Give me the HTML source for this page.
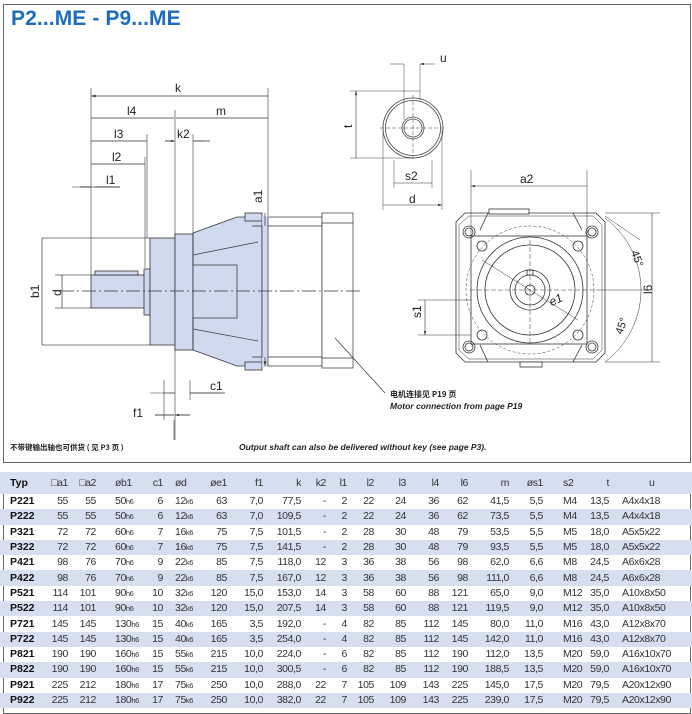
<!DOCTYPE html>
<html><head><meta charset="utf-8">
<style>
html,body{margin:0;padding:0;background:#fff;}
body{width:692px;height:708px;position:relative;overflow:hidden;font-family:"Liberation Sans",sans-serif;}
.box{position:absolute;border:1px solid #666;}
svg{position:absolute;left:0;top:0;}
table{position:absolute;left:0;top:472px;border-collapse:collapse;table-layout:fixed;width:692px;font-family:"Liberation Sans Narrow","Liberation Sans",sans-serif;font-size:10.5px;letter-spacing:-0.4px;color:#333;}
td{padding:0;height:15.3px;line-height:15px;white-space:nowrap;text-align:right;overflow:visible;}
tr.h td{height:22px;background:#d5dff0;}
tr.b td{background:#d5dff0;}
td.l{text-align:left;}
td.ty{text-align:left;padding-left:10px;font-weight:bold;font-family:"Liberation Sans",sans-serif;font-size:10.5px;letter-spacing:0;color:#111;}
small{font-size:7.5px;}
</style></head><body>
<div class="box" style="left:3px;top:4px;width:686px;height:457px;"></div>
<div class="box" style="left:3px;top:472px;width:686px;height:240px;"></div>
<div style="position:absolute;left:11px;top:7px;font-size:21px;font-weight:bold;color:#1b6dbd;letter-spacing:0.1px;">P2...ME - P9...ME</div>

<svg width="692" height="708" viewBox="0 0 692 708" font-family="Liberation Sans, sans-serif">
<defs>
<marker id="a" viewBox="0 0 10 6" refX="10" refY="3" markerWidth="8" markerHeight="4" orient="auto-start-reverse"><path d="M0,0L10,3L0,6z" fill="#333"/></marker>
</defs>
<g stroke="#555" stroke-width="0.7" fill="none">
<path d="M91,88V275 M147,134V238 M145,157V268 M175,110V440 M193,134V300 M268,88V216 M174,420V440 M164,380V420 M190,380V400 M80,187H120 M42,238H150 M55,275H91 M55,308H91 M42,345H150"/>
</g>
<g stroke="#333" stroke-width="0.8" fill="#cfdaee">
<rect x="91" y="275" width="54" height="33"/>
<rect x="95" y="271" width="43" height="4"/>
<rect x="144" y="269" width="6" height="46"/>
<rect x="150" y="238" width="25" height="107"/>
<rect x="175" y="234" width="18" height="116"/>
<path d="M193,233L237,217H262V366H237L193,350Z"/>
<rect x="245" y="213" width="17" height="8"/>
<rect x="245" y="362" width="17" height="8"/>
<rect x="262" y="216" width="6" height="151" stroke="none"/>
</g>
<g stroke="#333" stroke-width="0.7" fill="none">
<path d="M193,233V265H237V318H193V350 M193,255L258,242 M193,329L258,341 M252,226H262V245 M252,357H262V338 M237,265V318 M262,226V357"/>
<rect x="268" y="217" width="54" height="149" fill="#fff"/>
<path d="M268,226H322 M268,357H322"/>
<rect x="322" y="213" width="31" height="155" fill="#fff"/>
<path d="M322,223H353 M322,358H353"/>
<path d="M60,291H362" stroke-dasharray="14,3,2,3"/>
<path d="M335,338L385,393"/>
</g>
<g stroke="#333" stroke-width="0.7" marker-start="url(#a)" marker-end="url(#a)">
<path d="M91,96H268 M91,118H174 M176,118H268 M91,141H147 M91,164H145 M42,238V345 M62,275V308 M265,213V226 M265,357V366"/>
</g>
<g stroke="#333" stroke-width="0.7" fill="none">
<path d="M165,141H175 M193,141H210 M80,187H91 M95,187H120 M164,393H175 M190,393H225 M155,415H174 M175,415H190"/>
</g>
<g stroke="#333" stroke-width="0.6">
<path d="M72,187L91,187 M165,141L175,141" marker-end="url(#a)"/>
<path d="M115,187L95,187 M205,141L193,141 M220,393L190,393 M150,393L164,393 M155,415L174,415 M190,415L175,415" marker-end="url(#a)"/>
</g>
<g font-size="12" fill="#222">
<text x="175" y="92">k</text>
<text x="127" y="115">l4</text>
<text x="216" y="115">m</text>
<text x="114" y="138">l3</text>
<text x="177" y="138">k2</text>
<text x="112" y="161">l2</text>
<text x="106" y="184">l1</text>
<text x="210" y="390">c1</text>
<text x="133" y="417">f1</text>
<text transform="translate(39,298) rotate(-90)">b1</text>
<text transform="translate(61,296) rotate(-90)">d</text>
<text transform="translate(262,203) rotate(-90)">a1</text>
</g>
<g stroke="#444" stroke-width="0.8" fill="none">
<circle cx="413" cy="128" r="30"/><circle cx="413" cy="128" r="27.5"/>
<circle cx="413" cy="128" r="11"/><circle cx="413" cy="128" r="9"/>
<path d="M380,128H446 M413,95V161" stroke-dasharray="4,2" stroke-width="0.5"/>
<path d="M404,64V120 M420,64V100 M350,91H420 M350,158H413 M383,130V210 M442,130V210 M394,160V188 M432,160V188" stroke-width="0.5"/>
</g>
<g stroke="#333" stroke-width="0.6" marker-start="url(#a)" marker-end="url(#a)">
<path d="M356,91V158 M394,183H432 M383,205H442"/>
</g>
<g stroke="#333" stroke-width="0.6" marker-end="url(#a)"><path d="M390,64H404 M435,64H420"/></g>
<g font-size="12" fill="#222"><text x="440" y="62">u</text><text x="405" y="180">s2</text><text x="409" y="203">d</text>
<text transform="translate(352,128) rotate(-90)">t</text></g>
<g stroke="#333" stroke-width="0.8" fill="none">
<path d="M465,213H596L605,222V353L596,362H465L456,353V222Z"/>
<path d="M469,216H593L602,225V350L593,359H469L459,350V225Z" stroke-width="0.5"/>
<rect x="471" y="236" width="116" height="108"/>
<path d="M488,213L480,230 M573,213L582,230 M488,362L480,345 M573,362L582,345"/>
<rect x="489" y="209" width="40" height="5" fill="#fff"/>
<rect x="520" y="362" width="22" height="5" fill="#fff"/>
<circle cx="469" cy="232" r="6"/><circle cx="469" cy="232" r="4"/>
<circle cx="592" cy="232" r="6"/><circle cx="592" cy="232" r="4"/>
<circle cx="469" cy="347" r="6"/><circle cx="469" cy="347" r="4"/>
<circle cx="592" cy="347" r="6"/><circle cx="592" cy="347" r="4"/>
<circle cx="482" cy="246" r="5"/><circle cx="578" cy="246" r="5"/>
<circle cx="482" cy="335" r="5"/><circle cx="578" cy="335" r="5"/>
<circle cx="530" cy="290" r="53"/><circle cx="530" cy="290" r="45"/>
<circle cx="530" cy="290" r="20"/><circle cx="530" cy="290" r="15"/><circle cx="530" cy="290" r="5"/>
<rect x="527" y="270" width="6" height="5"/>
<circle cx="530" cy="290" r="64" stroke-dasharray="3,2" stroke-width="0.5"/>
<path d="M470,290H600 M530,240V345" stroke-dasharray="5,2" stroke-width="0.5"/>
<path d="M482,260L578,320 M600,290H648 M471,170V236 M587,170V236 M605,213H660 M605,362H660 M418,300H471 M418,335H471 M605,216L640,240" stroke-width="0.5"/>
<path d="M605,218A90,90 0 0 1 605,362" stroke-width="0.5"/>
</g>
<g stroke="#333" stroke-width="0.6" marker-start="url(#a)" marker-end="url(#a)">
<path d="M471,186H587 M652,213V362 M425,300V335"/>
</g>
<g font-size="12" fill="#222">
<text x="520" y="183">a2</text>
<text transform="translate(652,294) rotate(-90)">l6</text>
<text transform="translate(421,318) rotate(-90)">s1</text>
<text x="549" y="305" font-style="italic" transform="rotate(-25,553,300)">e1</text>
<text transform="translate(631,252) rotate(70)" font-size="11">45°</text>
<text transform="translate(622,335) rotate(-70)" font-size="11">45°</text>
</g>
<text x="390" y="397" font-size="8" font-weight="bold" fill="#222" font-family="Noto Sans CJK SC, sans-serif">电机连接见 P19 页</text>
<text x="390" y="409" font-size="8.5" font-weight="bold" font-style="italic" fill="#222">Motor connection from page P19</text>
<text x="10" y="450" font-size="7.5" font-weight="bold" fill="#222" font-family="Noto Sans CJK SC, sans-serif">不带键输出轴也可供货 ( 见 P3 页 )</text>
<text x="239" y="450" font-size="8.5" font-weight="bold" font-style="italic" fill="#222">Output shaft can also be delivered without key (see page P3).</text>
</svg>

<table>
<colgroup>
<col style="width:40px"><col style="width:28px"><col style="width:28px"><col style="width:54px"><col style="width:13px"><col style="width:35px"><col style="width:29px"><col style="width:36px"><col style="width:38px"><col style="width:25px"><col style="width:21px"><col style="width:27px"><col style="width:32px"><col style="width:33px"><col style="width:29px"><col style="width:41px"><col style="width:34px"><col style="width:40px"><col style="width:26px"><col style="width:83px">
</colgroup>
<tr class="h"><td class="ty">Typ</td><td>□a1</td><td>□a2</td><td class="l" style="padding-left:19px">øb1</td><td>c1</td><td class="l" style="padding-left:12px">ød</td><td>øe1</td><td>f1</td><td>k</td><td>k2</td><td>l1</td><td>l2</td><td>l3</td><td>l4</td><td>l6</td><td>m</td><td>øs1</td><td class="l" style="padding-left:20px">s2</td><td>t</td><td class="l" style="padding-left:40px">u</td></tr>
<tr><td class="ty">P221</td><td>55</td><td>55</td><td class="l" style="padding-left:19px">50<small>h6</small></td><td>6</td><td class="l" style="padding-left:12px">12<small>k6</small></td><td>63</td><td>7,0</td><td>77,5</td><td>-</td><td>2</td><td>22</td><td>24</td><td>36</td><td>62</td><td>41,5</td><td>5,5</td><td class="l" style="padding-left:20px">M4</td><td>13,5</td><td class="l" style="padding-left:13px">A4x4x18</td></tr>
<tr class="b"><td class="ty">P222</td><td>55</td><td>55</td><td class="l" style="padding-left:19px">50<small>h6</small></td><td>6</td><td class="l" style="padding-left:12px">12<small>k6</small></td><td>63</td><td>7,0</td><td>109,5</td><td>-</td><td>2</td><td>22</td><td>24</td><td>36</td><td>62</td><td>73,5</td><td>5,5</td><td class="l" style="padding-left:20px">M4</td><td>13,5</td><td class="l" style="padding-left:13px">A4x4x18</td></tr>
<tr><td class="ty">P321</td><td>72</td><td>72</td><td class="l" style="padding-left:19px">60<small>h6</small></td><td>7</td><td class="l" style="padding-left:12px">16<small>k6</small></td><td>75</td><td>7,5</td><td>101,5</td><td>-</td><td>2</td><td>28</td><td>30</td><td>48</td><td>79</td><td>53,5</td><td>5,5</td><td class="l" style="padding-left:20px">M5</td><td>18,0</td><td class="l" style="padding-left:13px">A5x5x22</td></tr>
<tr class="b"><td class="ty">P322</td><td>72</td><td>72</td><td class="l" style="padding-left:19px">60<small>h6</small></td><td>7</td><td class="l" style="padding-left:12px">16<small>k6</small></td><td>75</td><td>7,5</td><td>141,5</td><td>-</td><td>2</td><td>28</td><td>30</td><td>48</td><td>79</td><td>93,5</td><td>5,5</td><td class="l" style="padding-left:20px">M5</td><td>18,0</td><td class="l" style="padding-left:13px">A5x5x22</td></tr>
<tr><td class="ty">P421</td><td>98</td><td>76</td><td class="l" style="padding-left:19px">70<small>h6</small></td><td>9</td><td class="l" style="padding-left:12px">22<small>k6</small></td><td>85</td><td>7,5</td><td>118,0</td><td>12</td><td>3</td><td>36</td><td>38</td><td>56</td><td>98</td><td>62,0</td><td>6,6</td><td class="l" style="padding-left:20px">M8</td><td>24,5</td><td class="l" style="padding-left:13px">A6x6x28</td></tr>
<tr class="b"><td class="ty">P422</td><td>98</td><td>76</td><td class="l" style="padding-left:19px">70<small>h6</small></td><td>9</td><td class="l" style="padding-left:12px">22<small>k6</small></td><td>85</td><td>7,5</td><td>167,0</td><td>12</td><td>3</td><td>36</td><td>38</td><td>56</td><td>98</td><td>111,0</td><td>6,6</td><td class="l" style="padding-left:20px">M8</td><td>24,5</td><td class="l" style="padding-left:13px">A6x6x28</td></tr>
<tr><td class="ty">P521</td><td>114</td><td>101</td><td class="l" style="padding-left:19px">90<small>h6</small></td><td>10</td><td class="l" style="padding-left:12px">32<small>k6</small></td><td>120</td><td>15,0</td><td>153,0</td><td>14</td><td>3</td><td>58</td><td>60</td><td>88</td><td>121</td><td>65,0</td><td>9,0</td><td class="l" style="padding-left:20px">M12</td><td>35,0</td><td class="l" style="padding-left:13px">A10x8x50</td></tr>
<tr class="b"><td class="ty">P522</td><td>114</td><td>101</td><td class="l" style="padding-left:19px">90<small>h6</small></td><td>10</td><td class="l" style="padding-left:12px">32<small>k6</small></td><td>120</td><td>15,0</td><td>207,5</td><td>14</td><td>3</td><td>58</td><td>60</td><td>88</td><td>121</td><td>119,5</td><td>9,0</td><td class="l" style="padding-left:20px">M12</td><td>35,0</td><td class="l" style="padding-left:13px">A10x8x50</td></tr>
<tr><td class="ty">P721</td><td>145</td><td>145</td><td class="l" style="padding-left:19px">130<small>h6</small></td><td>15</td><td class="l" style="padding-left:12px">40<small>k6</small></td><td>165</td><td>3,5</td><td>192,0</td><td>-</td><td>4</td><td>82</td><td>85</td><td>112</td><td>145</td><td>80,0</td><td>11,0</td><td class="l" style="padding-left:20px">M16</td><td>43,0</td><td class="l" style="padding-left:13px">A12x8x70</td></tr>
<tr class="b"><td class="ty">P722</td><td>145</td><td>145</td><td class="l" style="padding-left:19px">130<small>h6</small></td><td>15</td><td class="l" style="padding-left:12px">40<small>k6</small></td><td>165</td><td>3,5</td><td>254,0</td><td>-</td><td>4</td><td>82</td><td>85</td><td>112</td><td>145</td><td>142,0</td><td>11,0</td><td class="l" style="padding-left:20px">M16</td><td>43,0</td><td class="l" style="padding-left:13px">A12x8x70</td></tr>
<tr><td class="ty">P821</td><td>190</td><td>190</td><td class="l" style="padding-left:19px">160<small>h6</small></td><td>15</td><td class="l" style="padding-left:12px">55<small>k6</small></td><td>215</td><td>10,0</td><td>224,0</td><td>-</td><td>6</td><td>82</td><td>85</td><td>112</td><td>190</td><td>112,0</td><td>13,5</td><td class="l" style="padding-left:20px">M20</td><td>59,0</td><td class="l" style="padding-left:13px">A16x10x70</td></tr>
<tr class="b"><td class="ty">P822</td><td>190</td><td>190</td><td class="l" style="padding-left:19px">160<small>h6</small></td><td>15</td><td class="l" style="padding-left:12px">55<small>k6</small></td><td>215</td><td>10,0</td><td>300,5</td><td>-</td><td>6</td><td>82</td><td>85</td><td>112</td><td>190</td><td>188,5</td><td>13,5</td><td class="l" style="padding-left:20px">M20</td><td>59,0</td><td class="l" style="padding-left:13px">A16x10x70</td></tr>
<tr><td class="ty">P921</td><td>225</td><td>212</td><td class="l" style="padding-left:19px">180<small>h6</small></td><td>17</td><td class="l" style="padding-left:12px">75<small>k6</small></td><td>250</td><td>10,0</td><td>288,0</td><td>22</td><td>7</td><td>105</td><td>109</td><td>143</td><td>225</td><td>145,0</td><td>17,5</td><td class="l" style="padding-left:20px">M20</td><td>79,5</td><td class="l" style="padding-left:13px">A20x12x90</td></tr>
<tr class="b"><td class="ty">P922</td><td>225</td><td>212</td><td class="l" style="padding-left:19px">180<small>h6</small></td><td>17</td><td class="l" style="padding-left:12px">75<small>k6</small></td><td>250</td><td>10,0</td><td>382,0</td><td>22</td><td>7</td><td>105</td><td>109</td><td>143</td><td>225</td><td>239,0</td><td>17,5</td><td class="l" style="padding-left:20px">M20</td><td>79,5</td><td class="l" style="padding-left:13px">A20x12x90</td></tr>
</table>
</body></html>
